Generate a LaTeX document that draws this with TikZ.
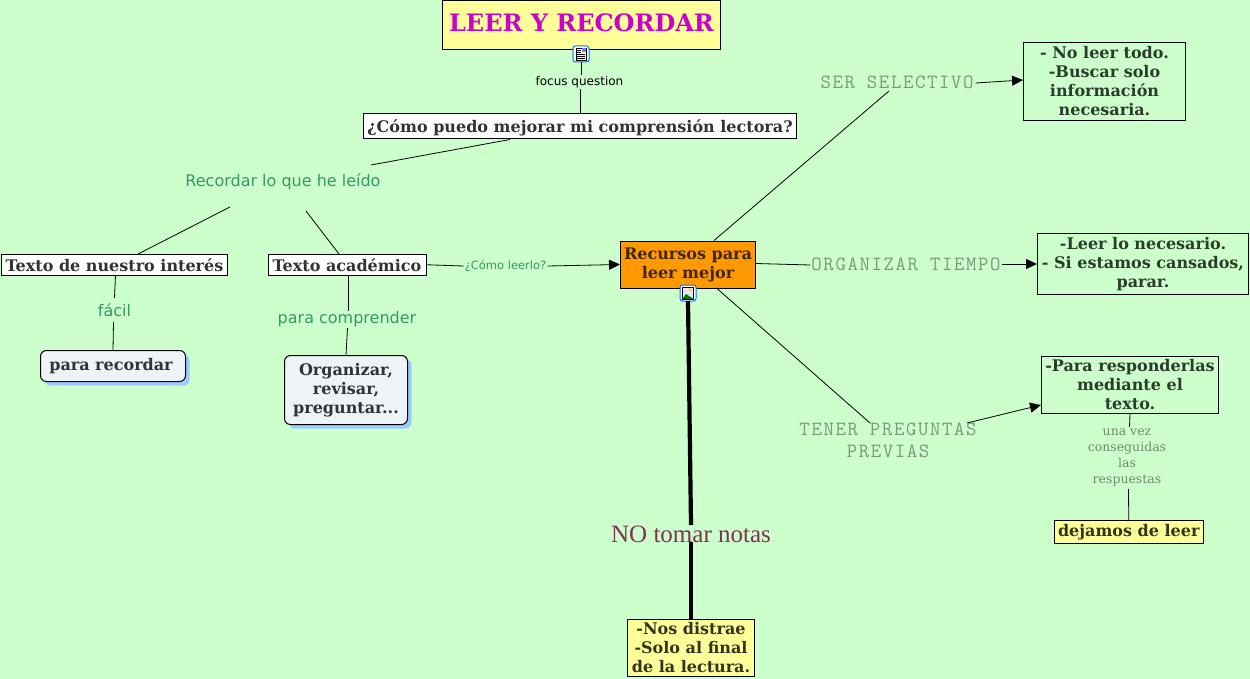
\documentclass[tikz,border=0pt]{standalone}
\usepackage{fontspec}
\setmainfont{DejaVu Serif}
\setsansfont{DejaVu Sans}
\setmonofont[LetterSpace=8]{Latin Modern Mono}
\usetikzlibrary{arrows.meta}
\definecolor{bgc}{HTML}{CCFFCC}
\definecolor{yel}{HTML}{FFFF99}
\definecolor{org}{HTML}{FF9900}
\definecolor{softw}{HTML}{EEF3F8}
\definecolor{shad}{HTML}{99CCFF}
\definecolor{mag}{HTML}{CC00CC}
\definecolor{lnk}{HTML}{339966}
\definecolor{dgr}{HTML}{2C3C2C}
\definecolor{wine}{HTML}{803355}
\tikzset{
 x=1pt,y=-1pt,
 box/.style={draw=black,line width=1pt,inner sep=0pt,align=center,font=\bfseries\fontsize{16}{19}\selectfont,text=black!80,anchor=center},
 wbox/.style={box,fill=white},
 ybox/.style={box,fill=yel},
 gbox/.style={box,text=dgr},
 rbox/.style={box,fill=softw,rounded corners=6pt},
 shadowbox/.style={fill=shad,rounded corners=6pt,draw=none},
 lab/.style={inner sep=0pt,align=center,anchor=center},
 sanslab/.style={lab,font=\sffamily\fontsize{16}{19}\selectfont,text=lnk},
 monolab/.style={lab,font=\ttfamily\fontsize{20.2}{22}\selectfont,text=black!40!bgc},
 conn/.style={draw=black,line width=.8pt},
 arr/.style={conn,-{Triangle[length=11pt,width=10pt]}},
 icon/.style={draw=blue!55!cyan,fill=white,line width=1pt,rounded corners=2.5pt,minimum size=16pt,inner sep=0pt}
}
\begin{document}
\begin{tikzpicture}
\useasboundingbox[fill=bgc] (0,0) rectangle (1250,679);
% concept boxes
\node[ybox,minimum width=278pt,minimum height=49pt,text height=18pt,text depth=4pt,font=\bfseries\fontsize{24}{28}\selectfont,text=mag] (title) at (581.5,25) {LEER Y RECORDAR};
\node[wbox,minimum width=433pt,minimum height=25pt,text height=15pt,text depth=3pt] (q) at (580,126.5) {¿Cómo puedo mejorar mi comprensión lectora?};
\node[wbox,minimum width=226pt,minimum height=20.5pt] (tn) at (114.5,264.75) {Texto de nuestro interés};
\node[wbox,minimum width=158pt,minimum height=20.5pt] (ta) at (347,264.75) {Texto académico};
\fill[shadowbox] (44.5,354.5) rectangle (189.5,385.5);
\node[rbox,minimum width=145pt,minimum height=31pt] (pr) at (113,366) {para recordar\hspace{4pt}};
\fill[shadowbox] (288.5,359.5) rectangle (411.5,428.5);
\node[rbox,minimum width=123pt,minimum height=69pt] (oz) at (346,390) {Organizar,\\revisar,\\preguntar...};
\node[box,fill=org,minimum width=135pt,minimum height=47pt,text=black!75!org] (rc) at (688,264.5) {Recursos para\\leer mejor};
\node[gbox,minimum width=162pt,minimum height=78pt] (b1) at (1104.5,81.5) {- No leer todo.\\-Buscar solo\\información\\necesaria.};
\node[gbox,minimum width=211pt,minimum height=61pt] (b2) at (1143,264) {-Leer lo necesario.\\- Si estamos cansados,\\parar.};
\node[gbox,minimum width=177pt,minimum height=57pt] (b3) at (1130,385) {-Para responderlas\\mediante el\\texto.};
\node[ybox,minimum width=148.5pt,minimum height=23pt,text=black!80!yel] (dj) at (1128.75,532) {dejamos de leer};
\node[ybox,minimum width=127pt,minimum height=56.5pt,text=black!80!yel] (nd) at (691,647.75) {-Nos distrae\\-Solo al final\\de la lectura.};
% linking labels
\node[lab,font=\sffamily\fontsize{12}{15}\selectfont,text=black] (fq) at (579.5,82) {focus question};
\node[sanslab] (rl) at (283,182) {Recordar lo que he leído};
\node[sanslab] (fa) at (114.5,310.5) {fácil};
\node[sanslab] (pc) at (347,319) {para comprender};
\node[lab,font=\sffamily\fontsize{11.5}{13}\selectfont,text=lnk] (cl) at (505.5,266) {¿Cómo leerlo?};
\node[monolab] (ss) at (897,82) {SER SELECTIVO};
\node[monolab] (ot) at (906,264) {ORGANIZAR TIEMPO};
\node[monolab] (tp) at (888,440) {TENER PREGUNTAS\\PREVIAS};
\node[lab,font=\fontsize{12.5}{16}\selectfont,text=black!45!bgc] (uv) at (1127,457.5) {una vez\\conseguidas\\las\\respuestas};
\node[lab,font=\rmfamily\fontsize{25}{27}\selectfont,text=wine] (nt) at (691,534) {\fontspec{Liberation Serif}NO tomar notas};
% icons
\node[icon] (ic1) at (581,54) {};
\fill[yel!60!white,draw=black,line width=.5pt] (ic1.center) ++(-5,-6) rectangle ++(10,12);
\fill[blue!50] (ic1.center) ++(.5,-5.5) rectangle ++(4,4);
\foreach \yy in {-4,-2}{\draw[black,line width=.4pt] ([xshift=-4pt,yshift=-\yy pt]ic1.center) -- ++(4,0);}
\foreach \yy in {0,2,4}{\draw[black,line width=.4pt] ([xshift=-4pt,yshift=-\yy pt]ic1.center) -- ++(8,0);}
\node[icon] (ic2) at (688,293) {};
\fill[blue!10,draw=black,line width=.5pt] (ic2.center) ++(-5.5,-6) rectangle ++(11,12);
\fill[green!45!black] (ic2.center) ++(-5.5,6) -- ++(3.5,-5) -- ++(7.5,5) -- cycle;
\fill[yellow!70!orange] ([xshift=2pt,yshift=3pt]ic2.center) circle (1.7pt);
% connectors
\draw[conn] (ic1.south) -- ([yshift=1pt]fq.north -| ic1.south);
\draw[conn] ([xshift=.5pt,yshift=-1pt]fq.south) -- (q.north);
\draw[conn] ([xshift=-70pt]q.south) -- ([xshift=88pt,yshift=17pt]rl.center);
\draw[conn] ([xshift=-53pt,yshift=-25pt]rl.center) -- ([xshift=23.5pt]tn.north);
\draw[conn] ([xshift=23pt,yshift=-29pt]rl.center) -- ([xshift=-8pt]ta.north);
\draw[conn] ([xshift=1pt]tn.south) -- ([yshift=12.5pt]fa.center);
\draw[conn] ([xshift=-1pt,yshift=-11.5pt]fa.center) -- (pr.north);
\draw[conn] ([xshift=1pt]ta.south) -- ([xshift=1pt,yshift=8.5pt]pc.center);
\draw[conn] ([xshift=.5pt,yshift=-9pt]pc.center) -- (oz.north);
\draw[conn] (ta.east) -- ([xshift=-1pt]cl.west);
\draw[arr] ([xshift=1pt]cl.east) -- (rc.west);
\draw[conn] ([xshift=26pt]rc.north) -- ([xshift=-8pt,yshift=-9pt]ss.center);
\draw[arr] ([xshift=2pt,yshift=-1pt]ss.east) -- ([yshift=1.5pt]b1.west);
\draw[conn] ([yshift=1pt]rc.east) -- ([xshift=-1pt,yshift=-1pt]ot.west);
\draw[arr] ([xshift=1pt]ot.east) -- (b2.west);
\draw[conn] ([xshift=29pt]rc.south) -- ([xshift=-18pt,yshift=17pt]tp.center);
\draw[arr] ([xshift=79pt,yshift=17pt]tp.center) -- ([yshift=-20pt]b3.west);
\draw[conn] (b3.south) -- ([xshift=2.5pt,yshift=30.5pt]uv.center);
\draw[conn] ([xshift=1.5pt,yshift=-31.5pt]uv.center) -- (dj.north);
\draw[line width=4.2pt] ([yshift=-8pt]ic2.center) -- ([yshift=9pt]nt.center);
\draw[line width=4.2pt] ([yshift=-8pt]nt.center) -- (nd.north);
\end{tikzpicture}
\end{document}
